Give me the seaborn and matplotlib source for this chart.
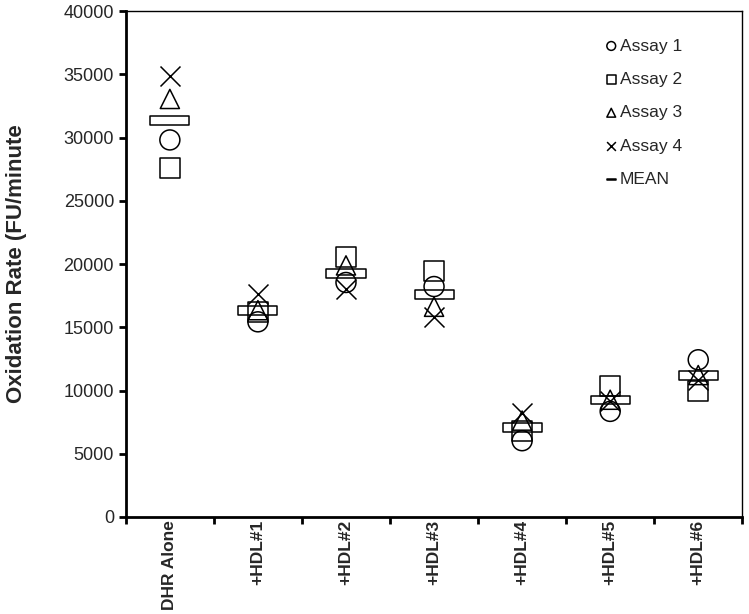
import numpy as np
import pandas as pd
import matplotlib
matplotlib.use("Agg")
import matplotlib.pyplot as plt
from matplotlib.path import Path
import seaborn as sns

groups = ["DHR Alone", "+HDL#1", "+HDL#2", "+HDL#3", "+HDL#4", "+HDL#5", "+HDL#6"]
assay1 = [29810, 15430, 18540, 18220, 6030, 8350, 12430]
assay2 = [27600, 16220, 20540, 19460, 6780, 10350, 9950]
assay3 = [33050, 16350, 19890, 16620, 7620, 9270, 11220]
assay4 = [34830, 17620, 18030, 15780, 8240, 9190, 10810]
mean = [31330, 16340, 19260, 17580, 7090, 9260, 11200]

sns.set_style("ticks")
plt.rcParams["font.family"] = ["Liberation Sans", "DejaVu Sans"]
fontsize = 13

# flat bar used for the MEAN marker
bar = Path([(-1, -0.22), (1, -0.22), (1, 0.22), (-1, 0.22), (-1, -0.22)],
           [Path.MOVETO, Path.LINETO, Path.LINETO, Path.LINETO, Path.CLOSEPOLY])

series = [
    ("Assay 1", assay1, "o", 207),
    ("Assay 2", assay2, "s", 207),
    ("Assay 3", assay3, "^", 190),
    ("Assay 4", assay4, "x", 207),
    ("MEAN", mean, bar, 790),
]

fig, ax = plt.subplots(figsize=(7.49, 6.14), dpi=100)
fig.subplots_adjust(left=0.168, right=0.991, top=0.982, bottom=0.158)

for name, vals, mk, s in series:
    df = pd.DataFrame({"group": groups, "rate": vals})
    if mk == "x":
        sns.scatterplot(data=df, x="group", y="rate", marker=mk, s=s,
                        color="black", linewidth=1.1, ax=ax, label=name)
    else:
        sns.scatterplot(data=df, x="group", y="rate", marker=mk, s=s,
                        facecolor="none", edgecolor="black", linewidth=1.1,
                        ax=ax, label=name)

ax.set_xlim(-0.5, 6.5)
ax.set_ylim(0, 40000)
ax.set_yticks(np.arange(0, 40001, 5000))
ax.set_xticks(np.arange(-0.5, 7, 1))
ax.set_xticklabels([])
ax.set_xticks(np.arange(7), labels=groups, minor=True)
ax.tick_params(axis="x", which="minor", length=0, pad=2)
for lab in ax.get_xticklabels(minor=True):
    lab.set_rotation(90)
    lab.set_fontweight("bold")
    lab.set_fontsize(12.5)
ax.tick_params(axis="both", which="major", direction="out", length=5,
               width=2, color="black", labelsize=fontsize)
ax.set_xlabel("")
ax.set_ylabel("Oxidation Rate (FU/minute", fontsize=16, fontweight="bold",
              labelpad=26)

for side in ["left", "bottom"]:
    ax.spines[side].set_linewidth(2)
for side in ["top", "right"]:
    ax.spines[side].set_visible(True)
    ax.spines[side].set_linewidth(1)
for sp in ax.spines.values():
    sp.set_color("black")

leg = ax.legend(loc="upper left", frameon=False, fontsize=12.5, labelspacing=1.05,
                handlelength=0.6, handletextpad=0.2, borderaxespad=0, borderpad=0,
                bbox_to_anchor=(0.779, 0.946))
for h in leg.legend_handles:
    h.set_sizes([40])

plt.savefig("out.png", dpi=100)
